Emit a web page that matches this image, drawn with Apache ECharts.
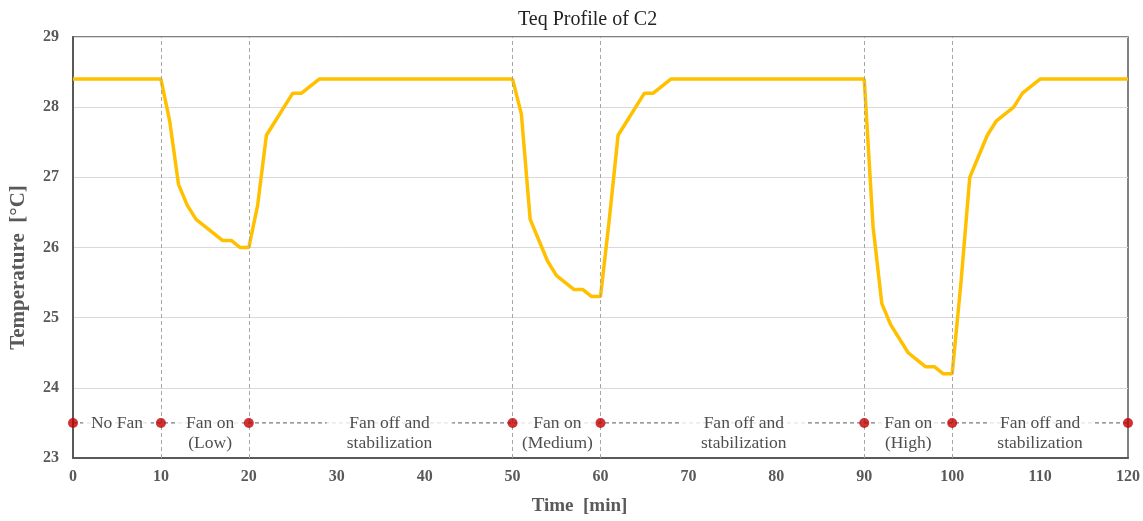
<!DOCTYPE html>
<html>
<head>
<meta charset="utf-8">
<script src="https://cdn.jsdelivr.net/npm/echarts@6/dist/echarts.min.js"></script>
<style>html,body{margin:0;padding:0;background:#fff}#c{width:1143px;height:521px}</style>
</head>
<body>
<div id="c"></div>
<script>
const titleText = 'Teq Profile of C2';
const xName = 'Time  [min]';
const yName = 'Temperature  [°C]';
const time = [0,10,11,12,13,14,15,16,17,18,19,20,21,22,23,24,25,26,27,28,50,51,52,53,54,55,56,57,58,59,60,61,62,63,64,65,66,67,68,90,91,92,93,94,95,96,97,98,99,100,101,102,103,104,105,106,107,108,109,110,120];
const temp = [28.4,28.4,27.8,26.9,26.6,26.4,26.3,26.2,26.1,26.1,26.0,26.0,26.6,27.6,27.8,28.0,28.2,28.2,28.3,28.4,28.4,27.9,26.4,26.1,25.8,25.6,25.5,25.4,25.4,25.3,25.3,26.4,27.6,27.8,28.0,28.2,28.2,28.3,28.4,28.4,26.3,25.2,24.9,24.7,24.5,24.4,24.3,24.3,24.2,24.2,25.5,27.0,27.3,27.6,27.8,27.9,28.0,28.2,28.3,28.4,28.4];
const eventTimes = [0,10,20,50,60,90,100,120];
const eventLines = [10,20,50,60,90,100];
const markerLevel = 23.5;
const phaseX = [5,15.6,36,55.1,76.3,95,110];
const phaseText = ['No Fan','Fan on\n(Low)','Fan off and\nstabilization','Fan on\n(Medium)','Fan off and\nstabilization','Fan on\n(High)','Fan off and\nstabilization'];

const labelPad = [8,8,20,5,21,7,10];
const serif = '"Liberation Serif", "DejaVu Serif", serif';
const grey = '#595959';

const chart = echarts.init(document.getElementById('c'));
chart.setOption({
  animation: false,
  title: {text: titleText, left: 513, top: 5, textStyle: {fontFamily: serif, fontSize: 20, fontWeight: 'normal', color: '#222'}},
  grid: {left: 71, right: 8, top: 37, bottom: 59, show: true, borderColor: grey, borderWidth: 1.5, backgroundColor: 'transparent'},
  xAxis: {
    type: 'value', min: 0, max: 120, interval: 10,
    name: xName, nameLocation: 'middle', nameGap: 39,
    nameTextStyle: {fontFamily: serif, fontSize: 19, fontWeight: 'bold', color: grey, padding: [0, 42, 0, 0]},
    axisLine: {show: true, lineStyle: {color: grey, width: 2}},
    axisTick: {show: false},
    axisLabel: {fontFamily: serif, fontSize: 16, fontWeight: 'bold', color: grey, margin: 11},
    splitLine: {show: false}
  },
  yAxis: {
    type: 'value', min: 23, max: 29, interval: 1,
    name: yName, nameLocation: 'middle', nameGap: 44, nameRotate: 90,
    nameTextStyle: {fontFamily: serif, fontSize: 21, fontWeight: 'bold', color: grey, padding: [0, 40, 0, 0]},
    axisLine: {show: true, lineStyle: {color: grey, width: 2}},
    axisTick: {show: false},
    axisLabel: {fontFamily: serif, fontSize: 16, fontWeight: 'bold', color: grey, margin: 14},
    splitLine: {show: true, lineStyle: {color: '#d9d9d9', width: 1}}
  },
  series: [
    {
      type: 'line', name: 'Teq', z: 4,
      data: time.map((t, i) => [t, temp[i]]),
      showSymbol: false, symbol: 'none',
      lineStyle: {color: '#ffc000', width: 3.5},
      markLine: {
        silent: true, symbol: 'none', label: {show: false},
        lineStyle: {color: '#a6a6a6', type: [4, 3], width: 1},
        data: eventLines.map(v => ({xAxis: v}))
      }
    },
    {
      type: 'line', name: 'phases', z: 2,
      data: [[eventTimes[0], markerLevel], [eventTimes[eventTimes.length - 1], markerLevel]],
      showSymbol: false, symbol: 'none',
      lineStyle: {color: grey, width: 1, type: [4, 3]}
    },
    {
      type: 'scatter', name: 'labels', z: 5,
      symbolSize: 0,
      data: phaseX.map((x, i) => ({
        value: [x, markerLevel],
        label: {
          show: true, position: 'inside', formatter: phaseText[i],
          fontFamily: serif, fontSize: 17.5, color: '#222', lineHeight: 20,
          align: 'center', backgroundColor: '#fff', padding: [0, labelPad[i]],
          offset: [0, phaseText[i].indexOf('\n') >= 0 ? 10 : 0]
        }
      }))
    },
    {
      type: 'scatter', name: 'events', z: 6,
      data: eventTimes.map(t => [t, markerLevel]),
      symbolSize: 10,
      itemStyle: {color: '#c00000'}
    }
  ]
});
</script>
</body>
</html>
